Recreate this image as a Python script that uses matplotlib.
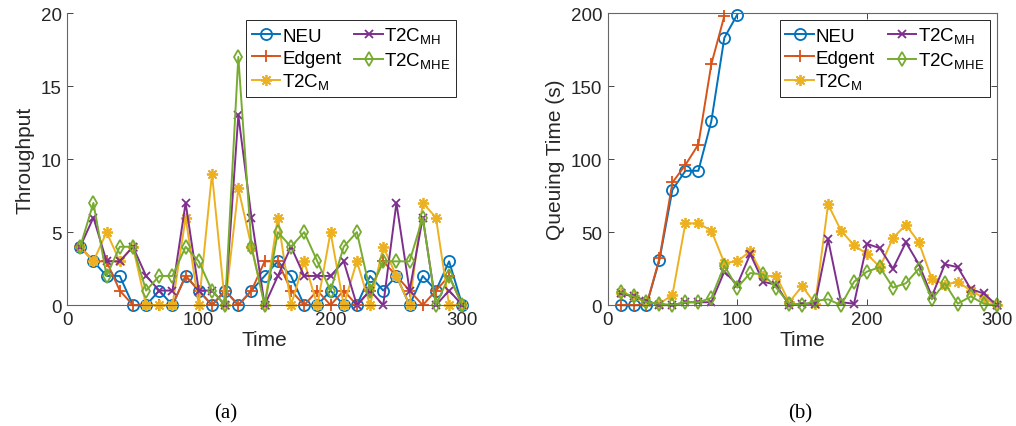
import numpy as np
import matplotlib
matplotlib.use('Agg')
import matplotlib.pyplot as plt

plt.rcParams['font.family'] = ['Liberation Sans', 'DejaVu Sans']
plt.rcParams['mathtext.fontset'] = 'custom'
plt.rcParams['mathtext.rm'] = 'Liberation Sans'

# time slots
t = np.arange(10, 301, 10)

# (a) throughput per slot
thr_neu = [4, 3, 2, 2, 0, 0, 1, 0, 2, 1, 0, 1, 0, 1, 2, 3, 2, 0, 0, 1,
           0, 0, 2, 1, 2, 0, 2, 1, 3, 0]
thr_edgent = [4, 3, 3, 1, 0, 0, 0, 0, 2, 1, 0, 1, 0, 1, 3, 3, 1, 0, 1, 0,
              1, 0, 1, 3, 2, 1, 0, 1, 2, 0]
thr_m = [4, 3, 5, 3, 4, 0, 0, 0, 6, 0, 9, 0, 8, 4, 0, 6, 0, 3, 0, 5,
         0, 3, 0, 4, 2, 0, 7, 6, 0, 0]
thr_mh = [4, 6, 3, 3, 4, 2, 1, 1, 7, 1, 1, 0, 13, 6, 0, 2, 4, 2, 2, 2,
          3, 0, 1, 0, 7, 1, 6, 0, 1, 0]
thr_mhe = [4, 7, 2, 4, 4, 1, 2, 2, 4, 3, 1, 0, 17, 4, 0, 5, 4, 5, 3, 1,
           4, 5, 1, 3, 3, 3, 6, 0, 2, 0]

# (b) queuing time, NEU and Edgent blow up early
q_neu = [0, 0, 0, 31, 79, 92, 92, 126, 183, 199]
q_edgent = [0, 0, 0, 32, 84, 96, 110, 165, 198]
q_m = [8, 6, 2, 1, 7, 56, 56, 51, 29, 30, 37, 20, 20, 2, 13, 1, 69, 51, 41, 35,
       26, 46, 55, 43, 18, 14, 16, 10, 5, 0]
q_mh = [8, 6, 3, 0, 0, 2, 2, 2, 23, 14, 35, 16, 14, 0, 1, 1, 45, 2, 1, 42,
        39, 25, 43, 28, 6, 28, 26, 11, 8, 0]
q_mhe = [9, 6, 2, 1, 0, 2, 2, 5, 27, 12, 22, 21, 12, 1, 0, 3, 4, 0, 16, 23,
         26, 12, 15, 25, 4, 15, 1, 6, 1, 0]

labels = ['NEU', 'Edgent', r'T2C$_\mathregular{M}$',
          r'T2C$_\mathregular{MH}$', r'T2C$_\mathregular{MHE}$']
colors = ['#0072BD', '#D95319', '#EDB120', '#7E2F8E', '#77AC30']
# (8, 2, 0) is an 8-armed asterisk like matlab's '*'
markers = ['o', '+', (8, 2, 0), 'x', 'd']
msize = [8, 8, 8, 6, 7]


def style_axes(ax, box):
    ax.tick_params(direction='in', length=4, width=0.6, colors='0.15',
                   labelsize=13.5, pad=4, top=box, right=box)
    for s in ax.spines.values():
        s.set_color('0.4')
        s.set_linewidth(0.8)
    if not box:
        ax.spines['top'].set_visible(False)
        ax.spines['right'].set_visible(False)
    ax.set_xlim(0, 300)
    ax.set_xticks([0, 100, 200, 300])
    ax.set_xlabel('Time', fontsize=15, color='0.15', labelpad=2)


def draw(ax, series):
    for i, (x, y) in enumerate(series):
        ax.plot(x, y, color=colors[i], marker=markers[i], ms=msize[i],
                mfc='none', mew=1.3, lw=1.4, label=labels[i], clip_on=False)


fig = plt.figure(figsize=(10.16, 4.27), dpi=100)
ax1 = fig.add_axes([0.066, 0.283, 0.389, 0.684])
ax2 = fig.add_axes([0.598, 0.283, 0.383, 0.684])

draw(ax1, [(t, thr_neu), (t, thr_edgent), (t, thr_m), (t, thr_mh), (t, thr_mhe)])
draw(ax2, [(t[:len(q_neu)], q_neu), (t[:len(q_edgent)], q_edgent),
           (t, q_m), (t, q_mh), (t, q_mhe)])

style_axes(ax1, False)
ax1.set_ylim(0, 20)
ax1.set_yticks([0, 5, 10, 15, 20])
ax1.set_ylabel('Throughput', fontsize=15, color='0.15', labelpad=4)

style_axes(ax2, True)
ax2.set_ylim(0, 200)
ax2.set_yticks([0, 50, 100, 150, 200])
ax2.set_ylabel('Queuing Time (s)', fontsize=15, color='0.15', labelpad=4)

for ax, anchor in [(ax1, (0.985, 0.976)), (ax2, (0.982, 0.976))]:
    leg = ax.legend(ncol=2, loc='upper right', bbox_to_anchor=anchor,
                    borderaxespad=0, fontsize=13.5, handlelength=1.5,
                    handletextpad=0.1, columnspacing=0.7, labelspacing=0.25,
                    borderpad=0.3, fancybox=False, framealpha=1)
    leg.get_frame().set_edgecolor('0.15')
    leg.get_frame().set_linewidth(0.7)

fig.text(0.222, 0.02, '(a)', ha='center', family='Liberation Serif', fontsize=15)
fig.text(0.788, 0.02, '(b)', ha='center', family='Liberation Serif', fontsize=15)

fig.savefig('out.png', dpi=100)
